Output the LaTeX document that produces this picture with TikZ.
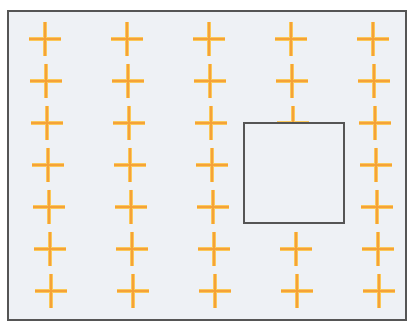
\documentclass[tikz,border=0pt]{standalone}
\usepackage{tikz}
\definecolor{PaperBg}{HTML}{EEF1F5}
\definecolor{FrameGray}{HTML}{555555}
\definecolor{CrossOrange}{HTML}{F5A238}
\definecolor{CrossEdge}{HTML}{FBC95A}

\begin{document}
\begin{tikzpicture}[x=1pt,y=-1pt]
  \tikzstyle{frame}=[draw=FrameGray,line width=1.1pt]
  \tikzstyle{crossline}=[draw=CrossEdge,line width=3.4pt]
  \tikzstyle{crosscore}=[draw=CrossOrange,line width=2pt]
  \useasboundingbox (0,0) rectangle (410,323);
  \fill[white] (0,0) rectangle (410,323);
  \draw[frame,fill=PaperBg] (8,11) rectangle (406,320);
  % grid of crosses, two left out behind the box
  \foreach \col in {0,...,4}{
    \foreach \row in {0,...,6}{
      \pgfmathsetmacro{\cx}{45+82*\col+1*\row}
      \pgfmathsetmacro{\cy}{39+42*\row}
      \pgfmathtruncatemacro{\skipit}{(\col==3)&&(\row>2)&&(\row<5)}
      \ifnum\skipit=0
        \draw[crossline] (\cx-16,\cy) -- (\cx+16,\cy) (\cx,\cy-17) -- (\cx,\cy+17);
        \draw[crosscore] (\cx-16,\cy) -- (\cx+16,\cy) (\cx,\cy-17) -- (\cx,\cy+17);
      \fi
    }
  }
  \draw[frame,fill=PaperBg] (244,123) rectangle (344,223);
\end{tikzpicture}
\end{document}
